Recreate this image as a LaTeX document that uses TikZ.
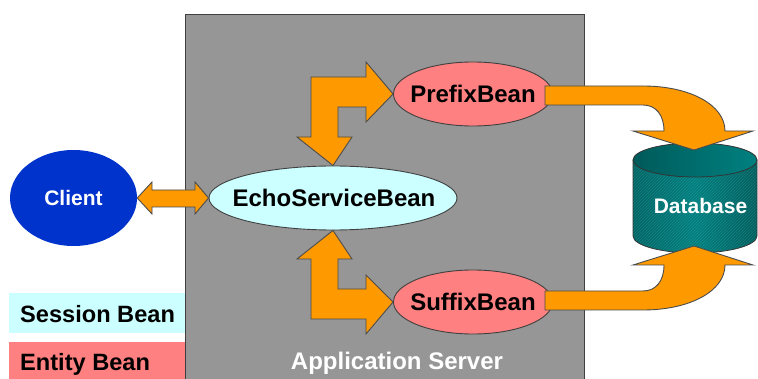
\documentclass[tikz,border=0pt]{standalone}
\usepackage{fontspec}
\setmainfont{Liberation Sans}
\usetikzlibrary{patterns,shapes.geometric}
\definecolor{srv}{RGB}{150,150,150}
\definecolor{sess}{RGB}{204,255,255}
\definecolor{ent}{RGB}{255,128,128}
\definecolor{org}{RGB}{255,153,0}
\definecolor{cli}{RGB}{0,51,204}
\definecolor{tl}{RGB}{0,128,128}
\definecolor{tld}{RGB}{0,90,90}
\tikzset{
  x=1pt,y=-1pt,
  bean/.style={ellipse,draw=black!75,line width=0.9pt,inner sep=0pt,minimum height=64pt},
  beantext/.style={anchor=base,inner sep=0pt,font=\fontsize{24}{24}\selectfont\bfseries,text=black},
  legendtext/.style={anchor=base west,inner sep=0pt,font=\fontsize{23.6}{24}\selectfont\bfseries,text=black},
  flow/.style={fill=org,draw=black!70,line width=0.9pt,line join=miter},
  lbl/.style={anchor=base,inner sep=0pt,text=white,font=\fontsize{21}{24}\selectfont\bfseries}
}
\begin{document}
\begin{tikzpicture}
\useasboundingbox (0,0) rectangle (758,379);
\clip (0,0) rectangle (758,379);
\fill[white] (0,0) rectangle (758,379);
% server and legend
\draw[fill=srv,draw=black!75,line width=0.8pt] (185,14) rectangle (584,385);
\fill[sess] (9,293) rectangle (184.5,333);
\fill[ent] (9,342) rectangle (184.5,379);
\node[legendtext] (session) at (20,322.7) {Session Bean};
\node[legendtext] (entity) at (20,370.7) {Entity Bean};
\node[anchor=base,inner sep=0pt,text=white,font=\fontsize{24}{24}\selectfont\bfseries] (server) at (397,369.5) {Application Server};
% nodes
\node[ellipse,fill=cli,minimum width=127pt,minimum height=96pt,inner sep=0pt] (client) at (73.5,198) {};
\node[lbl] (clientlabel) at (73.5,206) {Client};
\node[bean,fill=sess,minimum width=248pt] (echo) at (333,198) {};
\node[beantext] (echolabel) at (334,206.8) {EchoServiceBean};
\node[bean,fill=ent,minimum width=159pt] (prefix) at (473,94) {};
\node[beantext] (prefixlabel) at (473,103) {PrefixBean};
\node[bean,fill=ent,minimum width=159pt] (suffix) at (473,302) {};
\node[beantext] (suffixlabel) at (473,310.8) {SuffixBean};
% database
\coordinate (dbtop) at (695,160);
\shade[left color=tl!80!black,right color=tl!75!black,middle color=tl,draw=black!80,line width=0.8pt]
  (633,160) -- (633,236) arc[start angle=180,end angle=360,x radius=62,y radius=-17] -- (757,160) -- cycle;
\shade[left color=tld,right color=tl] (dbtop) ellipse[x radius=62,y radius=17];
\fill[pattern=north east lines,pattern color=white,opacity=0.11]
  (633,160) -- (633,236) arc[start angle=180,end angle=360,x radius=62,y radius=-17] -- (757,160)
  arc[start angle=0,end angle=180,x radius=62,y radius=17] -- cycle;
\draw[black!80,line width=0.8pt] (dbtop) ellipse[x radius=62,y radius=17];
\node[lbl] (dblabel) at (700.5,213.5) {Database};
% flow arrows
\draw[flow] (client.east) -- (152,182) -- (152,190) -- (195,190) -- (195,182) -- (echo.west)
  -- (195,214) -- (195,207) -- (152,207) -- (152,214) -- cycle;
\draw[flow] (prefix.west) -- (366,62) -- (366,77) -- (311,77) -- (311,137) -- (297,137) -- (echo.north)
  -- (352,137) -- (338,137) -- (338,107) -- (366,107) -- (366,122) -- cycle;
\draw[flow] (suffix.west) -- (366,275) -- (366,289) -- (338,289) -- (338,259) -- (352,259) -- (echo.south)
  -- (297,259) -- (311,259) -- (311,319) -- (366,319) -- (366,334) -- cycle;
\draw[flow] (545,86) -- (643,86) .. controls (690,86) and (725,105) .. (725,131)
  -- (753,131) -- (694,150) -- (633,131) -- (664,131) .. controls (664,115) and (656,105) .. (643,105)
  -- (545,105) -- cycle;
\draw[flow] (545,310) -- (643,310) .. controls (690,310) and (725,291) .. (725,265)
  -- (753,265) -- (694,246) -- (633,265) -- (664,265) .. controls (664,281) and (656,291) .. (643,291)
  -- (545,291) -- cycle;
\end{tikzpicture}
\end{document}
